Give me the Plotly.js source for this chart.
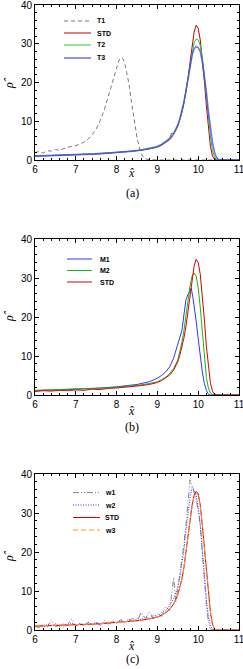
<!DOCTYPE html>
<html><head><meta charset="utf-8">
<script src="https://cdn.plot.ly/plotly-3.0.1.min.js"></script>
<style>body{margin:0;background:#fff}#c{width:243px;height:669px}</style>
</head><body><div id="c"></div>
<script>
// ---------- Panel (a) ----------
const xT1 = [6.0,6.1,6.2,6.3,6.4,6.5,6.6,6.7,6.8,6.9,7.0,7.1,7.2,7.3,7.4,7.5,7.6,7.7,7.8,7.9,8.0,8.05,8.1,8.15,8.2,8.25,8.3,8.35,8.4,8.45,8.5,8.55,8.6,8.65,8.7,8.8,9.0,10.0,11.0];
const yT1 = [1.9,2.2,1.8,2.4,2.3,2.7,2.5,3.0,3.3,3.5,3.7,4.1,4.6,5.4,6.5,8.0,10.2,13.0,16.5,20.5,24.0,25.5,26.4,26.2,25.0,22.8,19.8,16.0,12.5,9.0,5.8,3.5,1.8,0.8,0.3,0.1,0,0,0];

const xA = [6.0,6.2,6.4,6.6,6.8,7.0,7.2,7.4,7.6,7.8,8.0,8.2,8.4,8.6,8.8,9.0,9.1,9.2,9.3,9.35,9.4,9.45,9.5,9.55,9.6,9.65,9.7,9.75,9.8,9.85,9.9,9.95,10.0,10.05,10.1,10.15,10.2,10.25,10.3,10.35,10.4,10.45,10.5,11.0];
const yA_STD = [1.0,1.05,1.1,1.2,1.25,1.35,1.4,1.5,1.6,1.75,1.9,2.05,2.25,2.5,2.85,3.3,3.8,4.4,5.2,5.8,6.6,7.6,8.8,10.3,12.2,14.6,17.6,21.2,25.2,29.5,33.0,34.8,34.0,31.0,26.5,20.5,14.0,8.0,3.5,1.0,0.2,0,0,0];
const yA_T2  = [1.1,1.1,1.2,1.25,1.3,1.4,1.45,1.55,1.65,1.8,1.95,2.1,2.3,2.6,2.9,3.4,3.9,4.5,5.4,6.0,6.8,7.8,9.0,10.5,12.4,14.8,17.6,21.0,24.5,28.0,30.3,31.2,31.0,29.5,26.5,22.0,16.5,11.0,6.0,2.5,0.8,0.1,0,0];
const yA_T3  = [1.0,1.1,1.15,1.2,1.3,1.35,1.45,1.5,1.65,1.8,1.9,2.1,2.3,2.6,3.0,3.5,4.0,4.8,5.6,6.8,6.9,8.0,9.0,10.6,12.6,15.0,17.8,21.0,24.0,27.0,28.7,29.3,29.0,28.0,25.5,22.0,17.5,12.5,8.0,4.5,2.0,0.6,0.1,0];

// ---------- Panel (b) ----------
const xM1 = [6.0,6.5,7.0,7.5,8.0,8.5,8.8,9.0,9.1,9.2,9.3,9.4,9.45,9.5,9.55,9.6,9.65,9.7,9.75,9.8,9.83,9.87,9.9,9.95,10.0,10.05,10.1,10.15,10.2,10.25,10.3,11.0];
const yM1 = [1.1,1.25,1.45,1.7,2.1,2.7,3.4,4.3,5.0,5.9,7.2,9.5,11.3,13.0,14.8,16.5,20.5,24.5,25.8,26.8,27.4,25.0,23.0,19.0,14.5,10.0,6.0,3.0,1.2,0.2,0,0];
const xB = [6.0,6.2,6.4,6.6,6.8,7.0,7.2,7.4,7.6,7.8,8.0,8.2,8.4,8.6,8.8,9.0,9.1,9.2,9.3,9.4,9.5,9.55,9.6,9.65,9.7,9.75,9.8,9.85,9.9,9.95,10.0,10.05,10.1,10.15,10.2,10.25,10.3,10.35,10.4,10.45,11.0];
const yM2 = [1.2,1.25,1.3,1.35,1.45,1.5,1.55,1.6,1.7,1.85,2.0,2.15,2.35,2.6,2.95,3.4,3.9,4.5,5.5,6.8,9.0,11.0,13.5,16.5,20.5,24.5,28.0,30.5,31.3,30.5,27.5,22.5,16.0,9.5,4.5,1.8,0.5,0.1,0,0,0];
const yB_STD = [0.9,1.1,1.0,1.2,1.1,1.3,1.2,1.5,1.4,1.7,1.8,2.0,2.1,2.4,2.7,3.2,3.7,4.3,5.1,6.4,8.6,10.2,12.2,14.6,17.6,21.2,25.2,29.5,33.0,34.8,34.0,31.0,26.0,19.5,12.5,7.0,3.0,1.0,0.2,0,0];

// ---------- Panel (c) ----------
const xW = [6.0,6.1,6.2,6.3,6.4,6.5,6.6,6.7,6.8,6.9,7.0,7.1,7.2,7.3,7.4,7.5,7.6,7.7,7.8,7.9,8.0,8.1,8.2,8.3,8.4,8.5,8.6,8.7,8.8,8.9,9.0,9.1,9.2,9.3,9.35,9.4,9.45,9.5,9.55,9.6,9.65,9.7,9.75,9.8,9.85,9.9,9.95,10.0,10.05,10.1,10.15,10.2,10.25,10.3,10.35,10.4,11.0];
const yW1 = [1.0,0.6,1.5,0.8,2.6,0.9,1.2,0.7,1.4,2.8,1.0,1.6,0.9,2.0,1.3,1.8,1.2,2.4,1.5,2.1,1.6,2.7,1.8,2.3,3.0,2.0,4.5,2.6,4.8,3.0,4.2,3.5,6.0,5.0,9.5,13.5,7.0,10.5,14.0,17.5,22.0,27.0,34.0,38.5,37.0,35.0,33.5,30.5,27.0,20.0,12.0,6.5,2.0,0.3,0,0,0];
const yW2 = [0.8,1.3,0.7,1.4,1.0,1.6,0.9,1.5,1.1,1.8,1.2,1.7,1.3,1.9,1.4,2.0,1.5,1.9,1.7,2.3,1.8,2.6,2.0,2.8,2.2,3.0,2.6,3.4,3.0,3.8,3.4,4.5,4.8,6.5,7.5,8.0,9.5,11.0,13.5,16.5,20.5,25.5,30.0,34.0,36.5,36.0,34.5,31.5,27.0,21.5,14.5,8.0,3.5,1.0,0.2,0,0];
const xC = [6.0,6.2,6.4,6.6,6.8,7.0,7.2,7.4,7.6,7.8,8.0,8.2,8.4,8.6,8.8,9.0,9.1,9.2,9.3,9.4,9.5,9.55,9.6,9.65,9.7,9.75,9.8,9.85,9.9,9.95,10.0,10.05,10.1,10.15,10.2,10.25,10.3,10.35,10.4,10.45,11.0];
const yC_STD = [1.0,1.05,1.1,1.2,1.25,1.35,1.4,1.5,1.6,1.75,1.9,2.05,2.25,2.5,2.85,3.3,3.8,4.4,5.3,6.7,9.0,10.8,13.0,16.0,19.8,24.0,28.5,32.0,34.5,35.5,35.0,32.0,27.0,21.0,15.0,9.0,4.5,1.5,0.2,0,0];
const yW3   = [1.05,1.1,1.15,1.2,1.3,1.35,1.45,1.5,1.6,1.75,1.9,2.05,2.25,2.5,2.85,3.3,3.8,4.4,5.3,6.7,9.0,10.8,13.0,16.0,19.8,24.0,28.3,31.8,34.2,35.0,34.6,31.8,27.0,21.2,15.2,9.2,4.6,1.6,0.3,0,0];

const namesA = ['T1','STD','T2','T3'];
const namesB = ['M1','M2','STD'];
const namesC = ['w1','w2','STD','w3'];
const xTicks = [6,7,8,9,10,11];
const yTicks = [0,10,20,30,40];

const W = 243, H = 669;
const px = v => v / W, py = v => 1 - v / H;

const stA = [
  {color:'#777777', width:1, dash:'4px,3px'},
  {color:'#c00000', width:1, dash:'solid'},
  {color:'#22cc22', width:1, dash:'solid'},
  {color:'rgba(70,70,255,0.75)', width:1.6, dash:'solid'}
];
const stB = [
  {color:'#3333ff', width:1, dash:'solid'},
  {color:'#11bb11', width:1, dash:'solid'},
  {color:'#dd0000', width:1, dash:'solid'}
];
const stC = [
  {color:'#888888', width:1, dash:'6px,2px,1px,2px,1px,2px'},
  {color:'#3333ff', width:1, dash:'1px,1.5px'},
  {color:'#dd0000', width:1, dash:'solid'},
  {color:'#ff9933', width:1, dash:'5px,3px'}
];

const traces = [];
const addT = (x, y, st, ax) => traces.push({x, y, type:'scatter', mode:'lines', xaxis:'x'+ax, yaxis:'y'+ax, line:st, showlegend:false, hoverinfo:'skip'});
addT(xT1, yT1, stA[0], '');
addT(xA, yA_STD, stA[1], '');
addT(xA, yA_T2, stA[2], '');
addT(xA, yA_T3, stA[3], '');
addT(xM1, yM1, stB[0], '2');
addT(xB, yM2, stB[1], '2');
addT(xB, yB_STD, stB[2], '2');
addT(xW, yW1, stC[0], '3');
addT(xW, yW2, stC[1], '3');
addT(xC, yC_STD, stC[2], '3');
addT(xC, yW3, stC[3], '3');

const tickFont = {family:'Liberation Sans', size:10, color:'#000'};
const xax = (dom, anchor) => ({domain:dom, anchor, range:[6,11], tickvals:xTicks, ticktext:xTicks.map(String),
  ticks:'inside', ticklen:4, tickwidth:1, tickcolor:'#000', showline:true, linecolor:'#000', linewidth:1, mirror:'ticks',
  showgrid:false, zeroline:false, tickfont:tickFont, ticklabelstandoff:0, ticklabeloverflow:'allow',
  minor:{dtick:0.2, tick0:6, ticks:'inside', ticklen:2, tickcolor:'#000', showgrid:false}});
const yax = (dom, anchor) => ({domain:dom, anchor, range:[0,40], tickvals:yTicks, ticktext:yTicks.map(String),
  ticks:'inside', ticklen:4, tickwidth:1, tickcolor:'#000', showline:true, linecolor:'#000', linewidth:1, mirror:'ticks',
  showgrid:false, zeroline:false, tickfont:tickFont, ticklabelstandoff:0, ticklabeloverflow:'allow',
  minor:{dtick:2, tick0:0, ticks:'inside', ticklen:2, tickcolor:'#000', showgrid:false}});

const xd = [px(35), px(239)];
const layout = {
  width:W, height:H, margin:{l:0,r:0,t:0,b:0}, paper_bgcolor:'#fff', plot_bgcolor:'#fff', showlegend:false,
  xaxis: xax(xd,'y'),  yaxis: yax([py(160), py(5)],'x'),
  xaxis2: xax(xd,'y2'), yaxis2: yax([py(395), py(239)],'x2'),
  xaxis3: xax(xd,'y3'), yaxis3: yax([py(630), py(474)],'x3'),
  shapes:[], annotations:[]
};

const serif = {family:'Liberation Serif', size:12, color:'#000'};
const addAnn = (text, x, y, font, extra) => layout.annotations.push(Object.assign({text, x:px(x), y:py(y), xref:'paper', yref:'paper', showarrow:false, font, xanchor:'center', yanchor:'middle'}, extra||{}));
// axis titles & panel labels
[[173,193,83,'(a)'],[411,427,316,'(b)'],[646,659,556,'(c)']].forEach(([xl, pl, yl, lab]) => {
  addAnn('<i>x̂</i>', 131, xl, serif);
  addAnn(lab, 132, pl, {family:'Liberation Serif', size:12, color:'#000'});
  addAnn('<i>ρ̂</i>', 9, yl, serif, {textangle:-90});
});

// legends
const legFont = {family:'Liberation Sans', size:7, color:'#000'};
const addLegend = (names, styles, rows, x0, x1, xt) => {
  names.forEach((n, i) => {
    const st = styles[i];
    layout.shapes.push({type:'line', xref:'paper', yref:'paper', x0:px(x0), x1:px(x1), y0:py(rows[i]), y1:py(rows[i]),
      line:{color:st.color, width:st.width, dash:st.dash}});
    addAnn('<b>'+n+'</b>', xt, rows[i], legFont, {xanchor:'left'});
  });
};
addLegend(namesA, stA, [21,33,45,58], 64, 91, 95);
addLegend(namesB, stB, [259,270.5,282], 67, 92, 98);
addLegend(namesC, stC, [492.5,505,517.5,530], 73, 100, 103);

Plotly.newPlot('c', traces, layout, {staticPlot:true, displayModeBar:false});
</script></body></html>
